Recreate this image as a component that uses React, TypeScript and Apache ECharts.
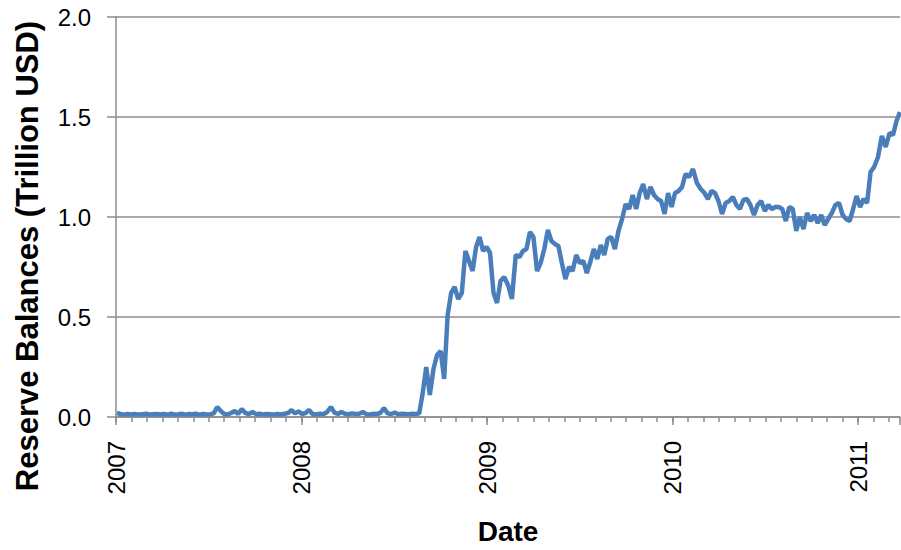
import React, { useEffect, useRef } from "react";
import * as echarts from "echarts";

// Weekly observations starting Wednesday 2007-01-03 (Trillion USD)
const startDate = [2007, 0, 3];
const reserveValues = [
  // 2007
  0.02, 0.015, 0.012, 0.015, 0.013, 0.015, 0.012, 0.014, 0.016, 0.012,
  0.014, 0.015, 0.013, 0.015, 0.012, 0.016, 0.013, 0.014, 0.016, 0.012,
  0.015, 0.014, 0.016, 0.012, 0.015, 0.013, 0.014, 0.018, 0.05, 0.03,
  0.015, 0.013, 0.02, 0.03, 0.015, 0.04, 0.02, 0.015, 0.025, 0.014,
  0.016, 0.013, 0.015, 0.014, 0.012, 0.015, 0.013, 0.016, 0.02, 0.035,
  0.018, 0.028,
  // 2008
  0.015, 0.02, 0.035, 0.015, 0.013, 0.016, 0.014, 0.025, 0.05, 0.022,
  0.015, 0.025, 0.016, 0.014, 0.018, 0.015, 0.016, 0.025, 0.014, 0.013,
  0.016, 0.015, 0.02, 0.045, 0.018, 0.015, 0.022, 0.014, 0.016, 0.015,
  0.014, 0.016, 0.015, 0.018, 0.12, 0.25, 0.11, 0.24, 0.31, 0.33,
  0.19, 0.51, 0.62, 0.65, 0.59, 0.62, 0.83, 0.78, 0.73, 0.85,
  0.9, 0.83,
  // 2009
  0.85, 0.82, 0.62, 0.57, 0.68, 0.7, 0.66, 0.59, 0.81, 0.8,
  0.83, 0.84, 0.925, 0.9, 0.73, 0.77, 0.84, 0.935, 0.88, 0.865,
  0.855, 0.77, 0.69, 0.75, 0.73, 0.81, 0.77, 0.78, 0.72, 0.775,
  0.84, 0.79, 0.86, 0.81, 0.89, 0.9, 0.84, 0.93, 0.99, 1.065,
  1.04, 1.11, 1.04, 1.12, 1.165, 1.09, 1.15, 1.11, 1.09, 1.08,
  1.015, 1.12,
  // 2010
  1.05, 1.12, 1.13, 1.15, 1.215, 1.2, 1.24, 1.17, 1.14, 1.12,
  1.09, 1.13, 1.12, 1.08, 1.015, 1.07, 1.08, 1.1, 1.06, 1.04,
  1.085, 1.09, 1.06, 1.01, 1.06, 1.08, 1.03, 1.06, 1.04, 1.05,
  1.05, 1.04, 0.98, 1.05, 1.04, 0.93, 1.0, 0.94, 1.02, 0.98,
  1.01, 0.97, 1.01, 0.96, 0.99, 1.02, 1.06, 1.07, 1.01, 0.99,
  0.98, 1.04,
  // 2011
  1.105, 1.05, 1.09, 1.07, 1.225, 1.25, 1.3, 1.405, 1.35, 1.42,
  1.41, 1.48, 1.525,
];
const yTicks = ["0.0", "0.5", "1.0", "1.5", "2.0"];
const baseYear = 2007;
const yTitle = "Reserve Balances (Trillion USD)";

const FONT = '"Liberation Sans", Arial, sans-serif';

function monthsSinceBase(ms: number): number {
  const d = new Date(ms);
  const y = d.getUTCFullYear();
  const m = d.getUTCMonth();
  const day = d.getUTCDate();
  const dim = new Date(Date.UTC(y, m + 1, 0)).getUTCDate();
  return (y - baseYear) * 12 + m + (day - 1) / dim;
}

export default function App() {
  const ref = useRef<HTMLDivElement>(null);
  useEffect(() => {
    if (!ref.current) return;
    const chart = echarts.init(ref.current, undefined, { renderer: "svg" });
    const t0 = Date.UTC(startDate[0], startDate[1], startDate[2]);
    const data = reserveValues.map((v, i) => [
      monthsSinceBase(t0 + i * 7 * 86400000),
      v,
    ]);
    const xMax = data[data.length - 1][0];
    const grey = "#8c8c8c";
    chart.setOption({
      animation: false,
      backgroundColor: "#ffffff",
      grid: { left: 116, right: 1, top: 17, bottom: 132, containLabel: false },
      graphic: [
        {
          type: "text",
          x: 27,
          y: 256,
          rotation: Math.PI / 2,
          style: {
            text: yTitle,
            fontFamily: FONT,
            fontSize: 31,
            fontWeight: "bold",
            fill: "#000",
            align: "center",
            verticalAlign: "middle",
          },
        },
      ],
      xAxis: [
        {
          type: "value",
          min: 0,
          max: xMax,
          interval: 1,
          name: "Date",
          nameLocation: "middle",
          nameGap: 100,
          nameTextStyle: { fontFamily: FONT, fontSize: 28, fontWeight: "bold", color: "#000" },
          axisLine: { show: true, lineStyle: { color: grey, width: 1.5 } },
          axisTick: { show: true, length: 5, lineStyle: { color: grey, width: 1.5 } },
          splitLine: { show: false },
          axisLabel: {
            rotate: 90,
            margin: 24,
            fontFamily: FONT,
            fontSize: 24,
            color: "#000",
            showMaxLabel: false,
            formatter: (v: number) => {
              const r = Math.round(v);
              if (Math.abs(v - r) < 1e-6 && r % 12 === 0) return String(baseYear + r / 12);
              return "";
            },
          },
        },
        {
          type: "value",
          min: 0,
          max: xMax,
          interval: 12,
          position: "bottom",
          axisLine: { show: false },
          axisTick: { show: true, length: 8, lineStyle: { color: grey, width: 1.5 } },
          axisLabel: { show: false },
          splitLine: { show: false },
        },
      ],
      yAxis: {
        type: "value",
        min: 0,
        max: 2,
        interval: 0.5,
        axisLine: { show: true, lineStyle: { color: grey, width: 1.5 } },
        axisTick: { show: true, length: 9, lineStyle: { color: grey, width: 1.5 } },
        splitLine: { show: true, lineStyle: { color: grey, width: 1.5 } },
        axisLabel: {
          margin: 25,
          fontFamily: FONT,
          fontSize: 24,
          color: "#000",
          formatter: (v: number) => yTicks[Math.round(v / 0.5)] ?? "",
        },
      },
      series: [
        {
          type: "line",
          data,
          xAxisIndex: 0,
          showSymbol: false,
          symbol: "none",
          lineStyle: { color: "#4a7ebb", width: 4.5 },
          clip: false,
        },
      ],
    });
    return () => chart.dispose();
  }, []);
  return (
    <div
      ref={ref}
      style={{ position: "fixed", left: 0, top: 0, width: 901, height: 550, background: "#fff" }}
    />
  );
}
